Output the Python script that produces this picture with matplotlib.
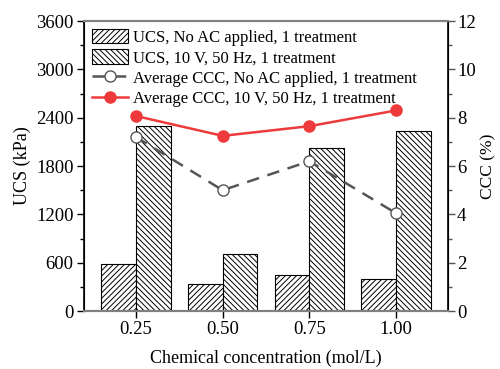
import matplotlib
matplotlib.use("Agg")
import matplotlib.pyplot as plt
from matplotlib.ticker import MultipleLocator
import numpy as np

categories = ["0.25", "0.50", "0.75", "1.00"]
ucs_no_ac = [590, 330, 443, 392]
ucs_ac = [2300, 704, 2025, 2230]
ccc_no_ac = [7.2, 5.0, 6.2, 4.05]
ccc_ac = [8.07, 7.25, 7.65, 8.3]

plt.rcParams['font.family'] = ['Liberation Serif', 'DejaVu Serif']
plt.rcParams['hatch.linewidth'] = 0.7

fig = plt.figure(figsize=(5.0, 3.69), dpi=100)
ax = fig.add_axes([0.168, 0.157, 0.728, 0.786])
ax2 = ax.twinx()

x = np.arange(1, len(categories) + 1)
w = 0.4
b1 = ax.bar(x - w, ucs_no_ac, width=w, align='edge', facecolor='white', edgecolor='black',
            hatch='//////', linewidth=0.8, label='UCS, No AC applied, 1 treatment')
b2 = ax.bar(x, ucs_ac, width=w, align='edge', facecolor='white', edgecolor='black',
            hatch='\\\\\\\\\\\\', linewidth=0.8, label='UCS, 10 V, 50 Hz, 1 treatment')

l1, = ax2.plot(x, ccc_no_ac, linestyle=(0, (5, 3.5)), color='#555555', linewidth=1.8,
               marker='o', markersize=8, markerfacecolor='white', markeredgecolor='#555555',
               markeredgewidth=1.0, label='Average CCC, No AC applied, 1 treatment')
l2, = ax2.plot(x, ccc_ac, linestyle='-', color='#ee3a3a', linewidth=1.8,
               marker='o', markersize=8, markerfacecolor='#ee3a3a', markeredgecolor='#ee3a3a',
               label='Average CCC, 10 V, 50 Hz, 1 treatment')

ax.set_xlim(0.4, 4.6)
ax.set_ylim(0, 3600)
ax2.set_ylim(0, 12)
ax.set_xticks(x)
ax.set_xticklabels(categories)
ax.yaxis.set_major_locator(MultipleLocator(600))
ax.yaxis.set_minor_locator(MultipleLocator(300))
ax2.yaxis.set_major_locator(MultipleLocator(2))
ax2.yaxis.set_minor_locator(MultipleLocator(1))

ax.set_xlabel('Chemical concentration (mol/L)', fontsize=13, labelpad=8)
ax.set_ylabel('UCS (kPa)', fontsize=13, labelpad=4)
ax2.set_ylabel('CCC (%)', fontsize=12.5, labelpad=3)

for a in (ax, ax2):
    a.tick_params(axis='both', which='major', labelsize=13.5, direction='out', length=5, width=1, pad=2.5)
    a.tick_params(axis='both', which='minor', direction='out', length=3, width=1)
ax2.tick_params(axis='y', which='major', pad=1.5)
for s in ('top', 'bottom'):
    ax2.spines[s].set_color('#808080')
    ax.spines[s].set_color('#808080')
    ax2.spines[s].set_linewidth(1.5)
    ax.spines[s].set_linewidth(1.5)
ax2.spines['left'].set_linewidth(1.2)
ax2.spines['right'].set_linewidth(1.2)
ax.tick_params(axis='x', which='major', color='black')
ax2.tick_params(axis='y', which='both', color='#555555')

ax2.legend([b1, b2, l1, l2], [b1.get_label(), b2.get_label(), l1.get_label(), l2.get_label()],
           loc='upper left', frameon=False, fontsize=12, handlelength=2.2, handleheight=1.0,
           borderaxespad=0.15, borderpad=0.3, labelspacing=0.2, handletextpad=0.3)

fig.savefig('out.png', dpi=100)
